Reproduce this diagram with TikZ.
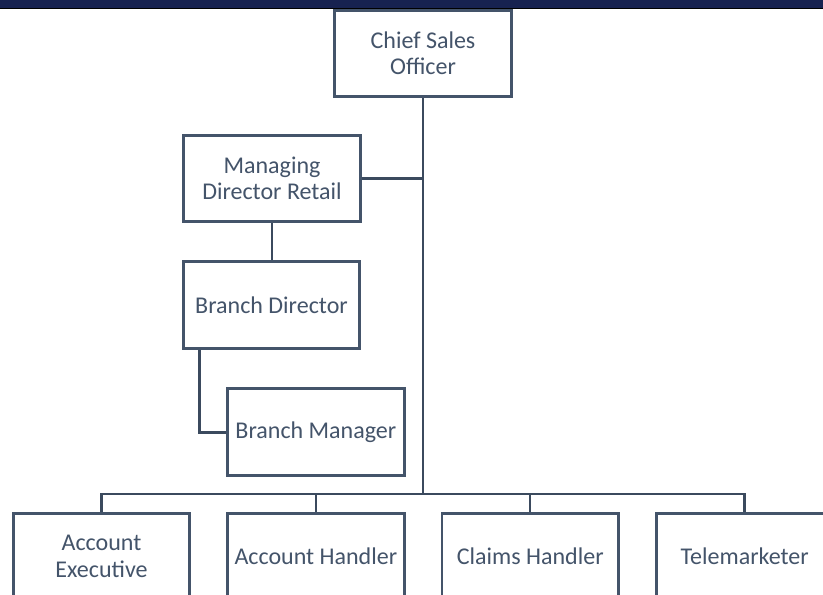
\documentclass[tikz,border=0pt]{standalone}
\usepackage{fontspec}
\setmainfont{Carlito}
\usepackage{tikz}
\usetikzlibrary{positioning}
\usepackage{xcolor}
\definecolor{slate}{HTML}{44546A}
\definecolor{wire}{HTML}{3B4A5E}
\definecolor{navy}{HTML}{172250}

\begin{document}
\begin{tikzpicture}[
    x=0.03cm, y=-0.03cm,
    role/.style={rectangle, draw=slate, line width=2.3pt, fill=white, minimum width=5.3cm, minimum height=2.6cm, align=center, text=slate, font=\fontsize{20.5}{22.5}\selectfont},
    link/.style={draw=wire, line width=2.4pt},
    node distance=1.05cm
]
    \useasboundingbox (0,0) rectangle (823,594);
    % Title bar
    \fill[navy] (0,0) rectangle (823,8);
    \fill[black] (0,8) rectangle (823,9.5);

    % Roles
    \node[role] (cso) at (423,53.5) {Chief Sales\\Officer};
    \node[role] (mdr) at (272,178.5) {Managing\\Director Retail};
    \node[role] (bd) at (271.5,305) {Branch Director};
    \node[role] (ae) at (101.5,556.5) {Account\\Executive};
    \node[role, right=of ae] (ah) {Account Handler};
    \node[role, right=of ah] (ch) {Claims Handler};
    \node[role, right=of ch] (tm) {Telemarketer};
    \node[role, above=of ah] (bm) {Branch Manager};

    % Lines
    \coordinate (bus) at (423,494);
    \draw[link] (cso.south) -- (bus);
    \draw[link] (mdr.east) -- (mdr.east -| bus);
    \draw[link] (mdr.south) -- (mdr.south |- bd.north);
    \draw[link] (bd.south west) ++(18,0) |- (bm.west);
    \draw[link, line width=2pt] (ae.north) |- (bus) -| (tm.north);
    \foreach \r in {ah,ch}
        \draw[link, line width=2pt] (\r.north) -- (\r.north |- bus);
\end{tikzpicture}
\end{document}
